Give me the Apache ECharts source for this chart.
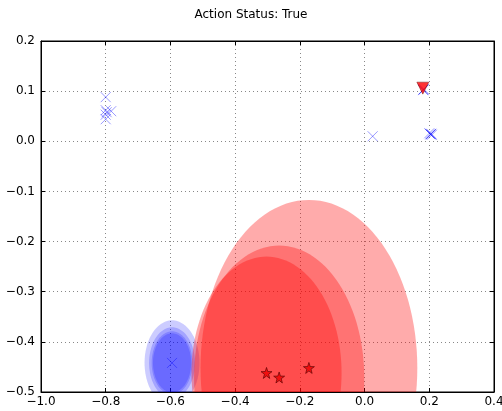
<!DOCTYPE html>
<html><head><meta charset="utf-8">
<script src="https://cdn.jsdelivr.net/npm/echarts@6/dist/echarts.min.js"></script>
<style>html,body{margin:0;padding:0;background:#fff}#c{width:502px;height:411px}</style>
</head><body><div id="c"></div>
<script>
const title = 'Action Status: True';
const xTicks = {min: -1.0, max: 0.4, interval: 0.2};
const yTicks = {min: -0.5, max: 0.2, interval: 0.1};

// red circles (data units): [cx, cy, r]
const redCircles = [[-0.172, -0.452, 0.335], [-0.264, -0.471, 0.263], [-0.303, -0.462, 0.232]];
// blue circles
const blueCircles = [[-0.595, -0.442, 0.085], [-0.595, -0.442, 0.071], [-0.595, -0.442, 0.063], [-0.595, -0.442, 0.059]];
// blue x markers
const blueX = [[-0.8, 0.088], [-0.8, 0.062], [-0.797, 0.058], [-0.783, 0.060], [-0.8, 0.053], [-0.8, 0.044],
  [0.025, 0.010], [0.200, 0.016], [0.205, 0.014], [0.208, 0.013], [0.206, 0.015], [0.203, 0.014],
  [0.183, 0.104], [0.181, 0.102], [0.182, 0.103], [-0.595, -0.442]];
// red stars
const redStars = [[-0.303, -0.462], [-0.264, -0.471], [-0.172, -0.452]];
// red triangle down
const redTri = [[0.180, 0.106]];

const fmt = v => { const s = (Math.abs(v) < 1e-9 ? 0 : v).toFixed(1); return s.replace('-', '\u2212'); };

function circleSeries(data, color, z) {
  return {
    type: 'custom', z: z, clip: true, silent: true,
    data: data,
    renderItem: function (params, api) {
      const cx = api.value(0), cy = api.value(1), r = api.value(2);
      const pts = [];
      for (let i = 0; i < 120; i++) {
        const t = i / 120 * Math.PI * 2;
        pts.push(api.coord([cx + r * Math.cos(t), cy + r * Math.sin(t)]));
      }
      return {type: 'polygon', shape: {points: pts}, style: {fill: color, stroke: null}};
    }
  };
}

const chart = echarts.init(document.getElementById('c'), null, {renderer: 'canvas'});
const axisCommon = {
  axisLine: {show: true, onZero: false, lineStyle: {color: '#000', width: 1}},
  axisTick: {show: true, inside: true, length: 4, lineStyle: {color: '#000'}},
  splitLine: {show: true, lineStyle: {color: '#888', type: [1, 3], width: 1}},
  axisLabel: {color: '#000', fontFamily: 'DejaVu Sans', fontSize: 12, formatter: fmt}
};
chart.setOption({
  animation: false,
  title: {text: title, left: 'center', top: 4, textStyle: {fontFamily: 'DejaVu Sans', fontSize: 12, fontWeight: 'normal', color: '#000'}},
  grid: {left: 41, right: 8, top: 41, bottom: 19, outerBoundsMode: 'none', containLabel: false, show: true, borderColor: '#000', borderWidth: 1, backgroundColor: 'transparent'},
  xAxis: [Object.assign({type: 'value', min: xTicks.min, max: xTicks.max, interval: xTicks.interval, position: 'bottom'}, axisCommon, {axisLabel: Object.assign({}, axisCommon.axisLabel, {margin: 4})}),
          Object.assign({type: 'value', min: xTicks.min, max: xTicks.max, interval: xTicks.interval, position: 'top'}, axisCommon, {axisLabel: {show: false}, splitLine: {show: false}})],
  yAxis: [Object.assign({type: 'value', min: yTicks.min, max: yTicks.max, interval: yTicks.interval, position: 'left'}, axisCommon, {axisLabel: Object.assign({}, axisCommon.axisLabel, {margin: 6})}),
          Object.assign({type: 'value', min: yTicks.min, max: yTicks.max, interval: yTicks.interval, position: 'right'}, axisCommon, {axisLabel: {show: false}, splitLine: {show: false}})],
  series: [
    circleSeries(blueCircles, 'rgba(0,0,255,0.2)', 2),
    circleSeries(redCircles, 'rgba(255,0,0,0.33)', 3),
    {type: 'scatter', z: 5, data: blueX, symbol: 'path://M0,0L10,10M10,0L0,10', symbolSize: 10, silent: true,
     itemStyle: {color: 'rgba(0,0,0,0)', borderColor: 'rgba(0,0,255,0.5)', borderWidth: 1}},
    {type: 'scatter', z: 6, data: redStars, symbol: 'path://M50,0L61.8,35.5L100,36.4L69.1,58.8L79.4,95.1L50,73.5L20.6,95.1L30.9,58.8L0,36.4L38.2,35.5Z', symbolSize: 11, silent: true,
     itemStyle: {color: '#ee0000', borderColor: '#550000', borderWidth: 0.8}},
    {type: 'scatter', z: 6, data: redTri, symbol: 'triangle', symbolRotate: 180, symbolSize: 12, silent: true,
     itemStyle: {color: '#ff0000', borderColor: '#550000', borderWidth: 0.5}}
  ]
});
</script></body></html>
